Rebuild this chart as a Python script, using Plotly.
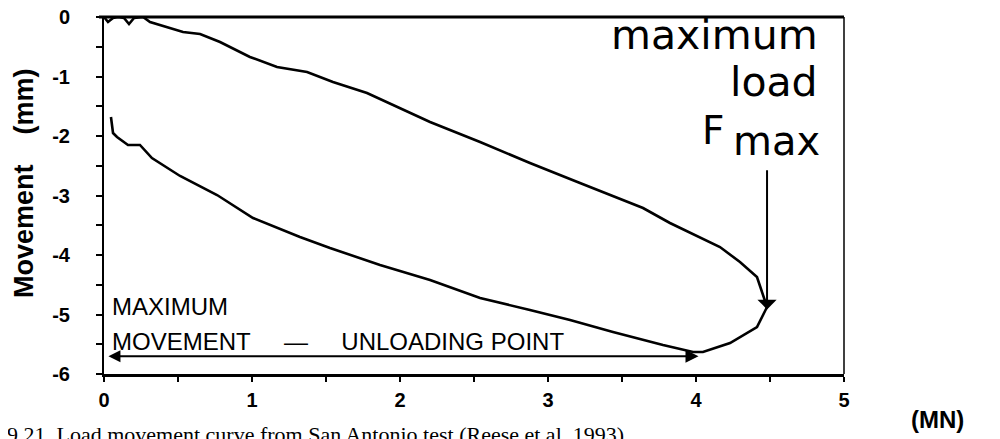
import plotly.graph_objects as go

# ---- data ----
load_mn = [0, 0.027, 0.061, 0.095, 0.135, 0.169, 0.203, 0.264,
           0.311, 0.534, 0.649, 0.784, 0.986, 1.169, 1.372, 1.547, 1.777, 2.0,
           2.203, 2.541, 2.878, 3.216, 3.642, 3.824, 4.162, 4.297, 4.412, 4.480,
           4.412, 4.23, 4.047, 3.98,
           3.777, 3.439, 3.149, 2.878, 2.541, 2.203, 1.865, 1.527, 1.324, 1.007,
           0.764, 0.514, 0.324, 0.243, 0.162, 0.088, 0.061, 0.047]
movement_mm = [0, -0.084, -0.017, 0, -0.017, -0.118, -0.017, 0,
               -0.084, -0.252, -0.286, -0.42, -0.672, -0.84, -0.924, -1.092, -1.277, -1.529,
               -1.765, -2.101, -2.454, -2.79, -3.21, -3.462, -3.866, -4.118, -4.37, -4.874,
               -5.21, -5.479, -5.63, -5.63,
               -5.513, -5.294, -5.092, -4.924, -4.723, -4.42, -4.168, -3.882, -3.697, -3.378,
               -2.992, -2.672, -2.37, -2.151, -2.151, -2.017, -1.95, -1.68]

x_tick_vals = [0, 1, 2, 3, 4, 5]
x_tick_text = ["0", "1", "2", "3", "4", "5"]
y_tick_vals = [0, -1, -2, -3, -4, -5, -6]
y_tick_text = ["0", "-1", "-2", "-3", "-4", "-5", "-6"]

# ---- layout geometry (screen pixels; page body has an 8px margin) ----
W, H = 1000, 439
OFF = 8
L, R, T, B = 104, 844, 17, 374


def pxx(p):
    return (p - L) / (R - L)


def pxy(p):
    return (B - p) / (B - T)


i_fmax = max(range(len(load_mn)), key=lambda i: load_mn[i])
i_smax = min(range(len(movement_mm)), key=lambda i: movement_mm[i])

fig = go.Figure()
fig.add_trace(go.Scatter(x=load_mn, y=movement_mm, mode="lines",
                         line=dict(color="black", width=2.6),
                         cliponaxis=False, showlegend=False, hoverinfo="skip"))

tickfont = dict(family="Arial, Liberation Sans, sans-serif", size=20, color="black", weight="bold")
axis_common = dict(showgrid=False, zeroline=False, showline=True, linecolor="black",
                   ticks="outside", tickcolor="black", tickwidth=2, tickfont=tickfont,
                   automargin=False, ticklabeloverflow="allow")

fig.update_xaxes(range=[0, 5], tickvals=x_tick_vals, ticktext=x_tick_text,
                 linewidth=2.5, ticklen=5, ticklabelstandoff=1,
                 minor=dict(dtick=0.5, ticks="outside", ticklen=5, tickwidth=2, tickcolor="black"),
                 **axis_common)
fig.update_yaxes(range=[-6, 0], tickvals=y_tick_vals, ticktext=y_tick_text,
                 linewidth=2, ticklen=6, ticklabelstandoff=22,
                 minor=dict(dtick=0.5, ticks="outside", ticklen=6, tickwidth=2, tickcolor="black"),
                 **axis_common)

# frame: thick top line, thin right line
fig.add_shape(type="line", xref="paper", yref="paper", x0=pxx(99), x1=1, y0=1, y1=1,
              line=dict(color="black", width=3))
fig.add_shape(type="line", xref="paper", yref="paper", x0=1, x1=1, y0=0, y1=1,
              line=dict(color="black", width=1.5))

ann = []
sans = "Arial, Liberation Sans, sans-serif"
big = "DejaVu Sans, Arial, sans-serif"

# arrows
ann.append(dict(x=load_mn[i_fmax], y=movement_mm[i_fmax] - 0.04, ax=load_mn[i_fmax], ay=-2.55,
                xref="x", yref="y", axref="x", ayref="y", text="", showarrow=True,
                arrowhead=1, arrowsize=1.6, arrowwidth=2, arrowcolor="black", standoff=0))
ann.append(dict(x=load_mn[i_smax] - 0.03, y=movement_mm[i_smax] - 0.07, ax=0.02, ay=movement_mm[i_smax] - 0.07,
                xref="x", yref="y", axref="x", ayref="y", text="", showarrow=True,
                arrowhead=2, arrowsize=1.3, arrowwidth=2, arrowcolor="black",
                arrowside="end+start", startarrowhead=2, startarrowsize=1.2, standoff=0, startstandoff=0))

# texts
def txt(text, x, y, size, family=sans, xanchor="left", weight="normal", angle=0):
    ann.append(dict(text=text, x=pxx(x), y=pxy(y), xref="paper", yref="paper",
                    showarrow=False, xanchor=xanchor, yanchor="middle", textangle=angle,
                    font=dict(family=family, size=size, color="black", weight=weight)))

txt("maximum", 820, 35, 41, family=big, xanchor="right")
txt("load", 820, 82, 41, family=big, xanchor="right")
txt("F", 700, 130, 39, family=big, xanchor="left")
txt("max", 822, 141, 40, family=big, xanchor="right")
txt("MAXIMUM", 110, 306, 24)
txt("MOVEMENT\u00a0\u00a0\u00a0\u00a0\u00a0—\u00a0\u00a0\u00a0\u00a0\u00a0UNLOADING POINT", 110, 341, 24)
txt("(MN)", 937, 419, 24, xanchor="center", weight="bold")
txt("Movement\u00a0\u00a0\u00a0\u00a0(mm)", 24, 183, 27, xanchor="center", weight="bold", angle=-90)
txt("9.21. Load movement curve from San Antonio test (Reese et al. 1993)", 5, 434, 22,
    family="Liberation Serif, Times New Roman, serif")

fig.update_layout(width=W, height=H,
                  margin=dict(l=L - OFF, r=W - R + OFF, t=T - OFF, b=H - B + OFF, autoexpand=False),
                  paper_bgcolor="white", plot_bgcolor="white", annotations=ann)

fig.write_html("out.html")
